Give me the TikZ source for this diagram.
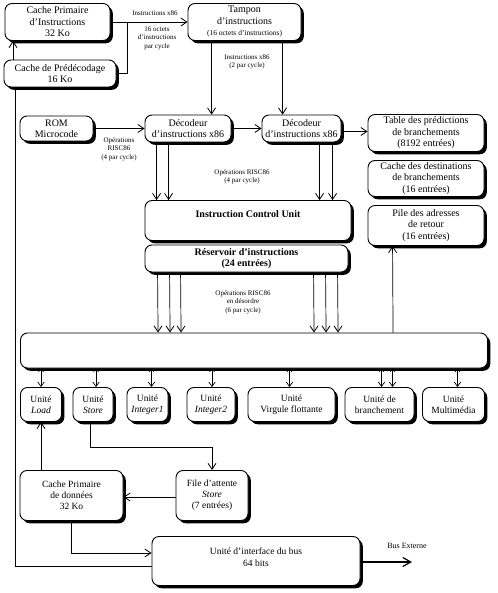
\documentclass[tikz,border=0pt]{standalone}
\usepackage{fontspec}
\setmainfont{Liberation Serif}
\usetikzlibrary{shadows,arrows.meta,calc}
\begin{document}
\begin{tikzpicture}[x=1pt,y=-1pt,
  box/.style={draw,line width=0.9pt,rounded corners=7pt,fill=white,inner sep=0pt,align=center,
    font=\fontsize{10}{11.5}\selectfont,
    drop shadow={shadow xshift=2.8pt,shadow yshift=-2.8pt,fill=black,opacity=1}},
  lbl/.style={align=center,inner sep=0pt,font=\fontsize{7}{8.5}\selectfont},
  arr/.style={line width=0.7pt,-{Straight Barb[length=6pt,width=8pt,line width=0.8pt]}},
  dbl/.style={line width=0.6pt,{Straight Barb[length=3pt,width=5pt,line width=0.6pt]}-{Straight Barb[length=4.5pt,width=6.5pt,line width=0.7pt]}},
  ln/.style={line width=0.7pt}]
\useasboundingbox (0,0) rectangle (497,593);

% nodes
\node[box,minimum width=105pt,minimum height=37pt] (cpi) at (57.5,22) {Cache Primaire\\d'Instructions\\32 Ko};
\node[box,minimum width=112pt,minimum height=27pt] (cpd) at (60,73.5) {Cache de Prédécodage\\16 Ko};
\node[box,minimum width=113pt,minimum height=37pt] (tampon) at (244.5,22) {Tampon\\d'instructions\\{\fontsize{7.5}{8.5}\selectfont(16 octets d'instructions)}};
\node[box,minimum width=73pt,minimum height=25pt] (rom) at (56.5,128.5) {ROM\\Microcode};
\node[box,minimum width=86pt,minimum height=27pt] (dec1) at (188,128.5) {Décodeur\\d'instructions x86};
\node[box,minimum width=79pt,minimum height=27pt] (dec2) at (301.5,128.5) {Décodeur\\d'instructions x86};
\node[box,minimum width=116pt,minimum height=37pt] (table) at (426,133) {Table des prédictions\\de branchements\\(8192 entrées)};
\node[box,minimum width=116pt,minimum height=36pt] (cdb) at (426,178.5) {Cache des destinations\\de branchements\\(16 entrées)};
\node[box,minimum width=116pt,minimum height=40pt] (pile) at (426,225.5) {Pile des adresses\\de retour\\(16 entrées)};
\node[box,minimum width=206pt,minimum height=40pt] (icu) at (248,220.5) {};
\node[inner sep=0pt,font=\fontsize{10}{11.5}\selectfont\bfseries] (icut) at (248,214) {Instruction Control Unit};
\node[box,minimum width=203pt,minimum height=27pt,font=\fontsize{10}{11.5}\selectfont\bfseries] (res) at (246.5,258.5) {Réservoir d'instructions\\(24 entrées)};
\node[box,minimum width=467pt,minimum height=35pt] (bar) at (254,350.5) {};

\node[box,minimum width=41pt,minimum height=34pt,font=\fontsize{9.5}{11}\selectfont] (load) at (41,404.5) {Unité\\\textit{Load}};
\node[box,minimum width=40pt,minimum height=34pt,font=\fontsize{9.5}{11}\selectfont] (store) at (93,404.5) {Unité\\\textit{Store}};
\node[box,minimum width=41pt,minimum height=34pt,font=\fontsize{9.5}{11}\selectfont] (int1) at (147.5,404.5) {Unité\\\textit{Integer1}};
\node[box,minimum width=48pt,minimum height=34pt,font=\fontsize{9.5}{11}\selectfont] (int2) at (211,404.5) {Unité\\\textit{Integer2}};
\node[box,minimum width=87pt,minimum height=34pt,font=\fontsize{9.5}{11}\selectfont] (vf) at (291.5,404.5) {Unité\\Virgule flottante};
\node[box,minimum width=69pt,minimum height=34pt,font=\fontsize{9.5}{11}\selectfont] (br) at (379.5,404.5) {Unité de\\branchement};
\node[box,minimum width=62pt,minimum height=34pt,font=\fontsize{9.5}{11}\selectfont] (mm) at (453.5,404.5) {Unité\\Multimédia};

\node[box,minimum width=103pt,minimum height=50pt,font=\fontsize{9.5}{11}\selectfont] (cpdon) at (71.5,495.5) {Cache Primaire\\de données\\32 Ko};
\node[box,minimum width=72pt,minimum height=50pt,font=\fontsize{9.5}{11}\selectfont] (file) at (212,495.5) {File d'attente\\\textit{Store}\\(7 entrées)};
\node[box,minimum width=208pt,minimum height=49pt] (bus) at (256,561) {};
\node[inner sep=0pt,align=center,font=\fontsize{9.5}{11.5}\selectfont] (bust) at (256,557) {Unité d'interface du bus\\64 bits};

% helper coordinates
\coordinate (xA) at (13,0);
\coordinate (xJ) at (127,0);
\coordinate (xL) at (15,0);
\coordinate (busext) at (412,562);

% top connectors
\draw[arr] (cpd.north -| xA) -- (cpi.south -| xA);
\draw[arr] (cpi.east) -- (tampon.west);
\draw[ln] (cpd.east) -| (xJ |- cpi.east);
\draw[arr] ($(tampon.south west)+(24,0)$) -- ($(dec1.north west)+(67,0)$);
\draw[arr] ($(tampon.south west)+(95,0)$) -- ($(dec2.north west)+(21,0)$);
\draw[arr] (rom.east) -- (dec1.west);
\draw[arr] (dec1.east) -- (dec2.west);
\draw[arr] ($(dec2.east)+(0,3)$) -- ($(dec2.east -| table.west)+(0,3)$);

\draw[arr] ($(dec1.south west)+(12,0)$) -- ($(icu.north west)+(12,0)$);
\draw[arr] ($(dec1.south west)+(24,0)$) -- ($(icu.north west)+(24,0)$);
\draw[arr] ($(dec2.south west)+(58,0)$) -- ($(icu.north west)+(175,0)$);
\draw[arr] ($(dec2.south west)+(71,0)$) -- ($(icu.north west)+(188,0)$);

\foreach \dx in {13,25,36,169,181,193}{
  \draw[arr] ($(res.south west)+(\dx,0)$) -- ($(bar.north west)+(\dx+125,0)$);
}
\draw[arr] ($(bar.north west)+(373,0)$) -- ($(pile.south west)+(25,0)$);

% bar <-> units
\draw[dbl] (bar.south -| load) -- (load.north);
\draw[dbl] ($(bar.south -| store)+(3,0)$) -- ($(store.north)+(3,0)$);
\draw[dbl] ($(bar.south -| int1)+(4,0)$) -- ($(int1.north)+(4,0)$);
\draw[dbl] ($(bar.south -| int2)+(1,0)$) -- ($(int2.north)+(1,0)$);
\draw[dbl] ($(bar.south -| vf)+(-2,0)$) -- ($(vf.north)+(-2,0)$);
\draw[dbl] ($(bar.south -| br)+(2,0)$) -- ($(br.north)+(2,0)$);
\draw[dbl] ($(bar.south -| br)+(13,0)$) -- ($(br.north)+(13,0)$);
\draw[dbl] ($(bar.south -| mm)+(4,0)$) -- ($(mm.north)+(4,0)$);

% lower connectors
\draw[arr] ($(store.south)+(-3,0)$) |- ($(file.north)+(0,-23)$) -- (file.north);
\draw[arr] (cpdon.north -| load) -- (load.south);
\draw[arr] ($(file.west)+(0,1.5)$) -- ($(cpdon.east)+(0,1.5)$);
\draw[arr] (cpdon.south) |- ($(bus.west)+(0,-8)$);
\draw[ln] ($(bus.west)+(0,5)$) -| (cpd.south -| xL);
\draw[line width=1.2pt,-{Straight Barb[length=8pt,width=9pt,line width=1.2pt]}] (bus.east |- busext) -- (busext);

% labels
\node[lbl] (l1) at (155,13) {Instructions x86};
\node[lbl] (l2) at (157,38) {16 octets\\d'instructions\\par cycle};
\node[lbl] (l3) at (247,62) {Instructions x86\\(2 par cycle)};
\node[lbl] (l4) at (119,149) {Opérations\\RISC86\\(4 par cycle)};
\node[lbl] (l5) at (242,177) {Opérations RISC86\\(4 par cycle)};
\node[lbl] (l6) at (243,302) {Opérations RISC86\\en désordre\\(6 par cycle)};
\node[inner sep=0pt,font=\fontsize{8}{9}\selectfont] (l7) at (407,546) {Bus Externe};
\end{tikzpicture}
\end{document}
